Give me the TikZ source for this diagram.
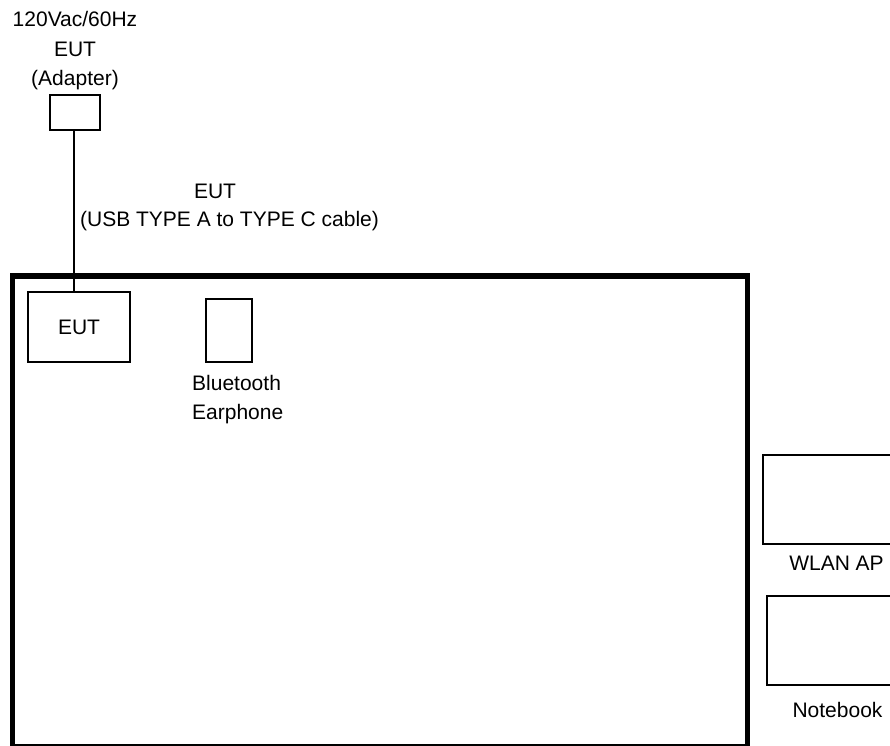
\documentclass[tikz,border=0pt]{standalone}
\usepackage{fontspec}
\setmainfont{Liberation Sans}
\usetikzlibrary{positioning}

\begin{document}
\begin{tikzpicture}[x=1pt, y=-1pt,
	every node/.style={font=\fontsize{21}{29.5}\selectfont, inner sep=0pt, align=center},
	unitbox/.style={draw, line width=1.6pt, minimum width=#1},
	roombox/.style={draw, line width=5.5pt}]
	\clip (0,0) rectangle (890,745);
	
	% Test table
	\node[roombox, minimum width=735, minimum height=470.5] (room) at (380,511.25) {};
	
	% Adapter
	\node[unitbox=50, minimum height=35] (adapter) at (75,112.5) {};
	\node[above=4pt of adapter] (adapterlbl) {120Vac/60Hz\\EUT\\(Adapter)};
	
	% EUT
	\node[unitbox=102, minimum height=70] (eut) at (79,327) {EUT};
	
	% Cable
	\draw[line width=1.4pt] (adapter.south -| 74,0) -- (eut.north -| 74,0);
	\node (cablename) at (215,191) {EUT};
	\node (cabletype) at (229.5,221) {(USB TYPE A to TYPE C cable)};
	
	% Bluetooth earphone
	\node[unitbox=46, minimum height=63] (bt) at (229,330.5) {};
	\node[anchor=north west, align=left] (btlbl) at (192,375) {Bluetooth\\Earphone};
	
	% Support units
	\node[unitbox=137, minimum height=89] (wlan) at (831.5,499.5) {};
	\node (wlanlbl) at (836.5,563) {WLAN AP};
	\node[unitbox=133, minimum height=89] (notebook) at (833.5,640.5) {};
	\node (notebooklbl) at (837.5,709.5) {Notebook};
\end{tikzpicture}
\end{document}
